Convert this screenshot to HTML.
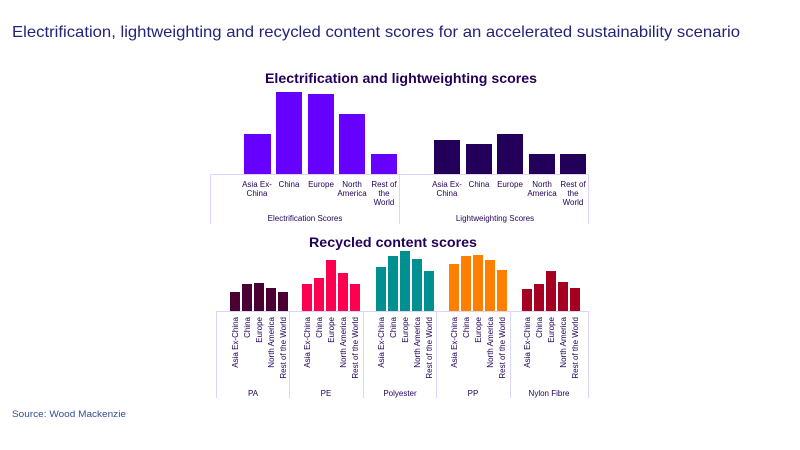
<!DOCTYPE html>
<html><head><meta charset="utf-8"><style>
html,body{margin:0;padding:0;background:#fff;}
svg{display:block;}
text{font-family:"Liberation Sans",Arial,sans-serif;}
</style></head><body>
<svg width="800" height="450" viewBox="0 0 800 450" xmlns="http://www.w3.org/2000/svg">
<rect width="800" height="450" fill="#fff"/>
<text x="12" y="37" font-size="16" fill="#23237a" textLength="728" lengthAdjust="spacingAndGlyphs">Electrification, lightweighting and recycled content scores for an accelerated sustainability scenario</text>
<text x="12" y="417" font-size="9.5" fill="#2f4f8f" textLength="114" lengthAdjust="spacingAndGlyphs">Source: Wood Mackenzie</text>

<!-- top chart -->
<text x="401" y="83" font-size="14" font-weight="bold" fill="#22005a" text-anchor="middle" textLength="272" lengthAdjust="spacingAndGlyphs">Electrification and lightweighting scores</text>
<g fill="#6600ff">
<rect x="244" y="134" width="27" height="40"/>
<rect x="276" y="92" width="26" height="82"/>
<rect x="308" y="94" width="26" height="80"/>
<rect x="339" y="114" width="26" height="60"/>
<rect x="371" y="154" width="26" height="20"/>
</g>
<g fill="#22005a">
<rect x="434" y="140" width="26" height="34"/>
<rect x="466" y="144" width="26" height="30"/>
<rect x="497" y="134" width="26" height="40"/>
<rect x="529" y="154" width="26" height="20"/>
<rect x="560" y="154" width="26" height="20"/>
</g>
<g stroke="#dcd3ff" stroke-width="1" fill="none">
<line x1="210" y1="174.5" x2="589" y2="174.5"/>
<line x1="210.5" y1="174" x2="210.5" y2="224"/>
<line x1="399.5" y1="174" x2="399.5" y2="224"/>
<line x1="588.5" y1="174" x2="588.5" y2="224"/>
</g>
<g font-size="8" fill="#22005a" text-anchor="middle">
<text x="257" y="187">Asia Ex-</text><text x="257" y="196">China</text>
<text x="289" y="187">China</text>
<text x="321" y="187">Europe</text>
<text x="352" y="187">North</text><text x="352" y="196">America</text>
<text x="384" y="187">Rest of</text><text x="384" y="196">the</text><text x="384" y="205">World</text>
<text x="447" y="187">Asia Ex-</text><text x="447" y="196">China</text>
<text x="479" y="187">China</text>
<text x="510" y="187">Europe</text>
<text x="542" y="187">North</text><text x="542" y="196">America</text>
<text x="573" y="187">Rest of</text><text x="573" y="196">the</text><text x="573" y="205">World</text>
<text x="305" y="221">Electrification Scores</text>
<text x="495" y="221">Lightweighting Scores</text>
</g>

<!-- bottom chart -->
<text x="393" y="247" font-size="14" font-weight="bold" fill="#22005a" text-anchor="middle" textLength="168" lengthAdjust="spacingAndGlyphs">Recycled content scores</text>
<g fill="#4b0033">
<rect x="230" y="292" width="10" height="19"/><rect x="242" y="284" width="10" height="27"/><rect x="254" y="283" width="10" height="28"/><rect x="266" y="288" width="10" height="23"/><rect x="278" y="292" width="10" height="19"/>
</g>
<g fill="#ff0050">
<rect x="302" y="284" width="10" height="27"/><rect x="314" y="278" width="10" height="33"/><rect x="326" y="260" width="10" height="51"/><rect x="338" y="273" width="10" height="38"/><rect x="350" y="284" width="10" height="27"/>
</g>
<g fill="#009090">
<rect x="376" y="267" width="10" height="44"/><rect x="388" y="256" width="10" height="55"/><rect x="400" y="251" width="10" height="60"/><rect x="412" y="259" width="10" height="52"/><rect x="424" y="271" width="10" height="40"/>
</g>
<g fill="#ff7f00">
<rect x="449" y="264" width="10" height="47"/><rect x="461" y="256" width="10" height="55"/><rect x="473" y="255" width="10" height="56"/><rect x="485" y="260" width="10" height="51"/><rect x="497" y="270" width="10" height="41"/>
</g>
<g fill="#a50021">
<rect x="522" y="289" width="10" height="22"/><rect x="534" y="284" width="10" height="27"/><rect x="546" y="271" width="10" height="40"/><rect x="558" y="282" width="10" height="29"/><rect x="570" y="288" width="10" height="23"/>
</g>
<g stroke="#dcd3ff" stroke-width="1" fill="none">
<line x1="216" y1="311.5" x2="589" y2="311.5"/>
<line x1="216.5" y1="311" x2="216.5" y2="398"/>
<line x1="289.5" y1="311" x2="289.5" y2="398"/>
<line x1="363.5" y1="311" x2="363.5" y2="398"/>
<line x1="436.5" y1="311" x2="436.5" y2="398"/>
<line x1="510.5" y1="311" x2="510.5" y2="398"/>
<line x1="588.5" y1="311" x2="588.5" y2="398"/>
</g>
<g font-size="8" fill="#22005a" text-anchor="end">
<text transform="translate(238,317) rotate(-90)">Asia Ex-China</text>
<text transform="translate(250,317) rotate(-90)">China</text>
<text transform="translate(262,317) rotate(-90)">Europe</text>
<text transform="translate(274,317) rotate(-90)">North America</text>
<text transform="translate(286,317) rotate(-90)">Rest of the World</text>
<text transform="translate(310,317) rotate(-90)">Asia Ex-China</text>
<text transform="translate(322,317) rotate(-90)">China</text>
<text transform="translate(334,317) rotate(-90)">Europe</text>
<text transform="translate(346,317) rotate(-90)">North America</text>
<text transform="translate(358,317) rotate(-90)">Rest of the World</text>
<text transform="translate(384,317) rotate(-90)">Asia Ex-China</text>
<text transform="translate(396,317) rotate(-90)">China</text>
<text transform="translate(408,317) rotate(-90)">Europe</text>
<text transform="translate(420,317) rotate(-90)">North America</text>
<text transform="translate(432,317) rotate(-90)">Rest of the World</text>
<text transform="translate(457,317) rotate(-90)">Asia Ex-China</text>
<text transform="translate(469,317) rotate(-90)">China</text>
<text transform="translate(481,317) rotate(-90)">Europe</text>
<text transform="translate(493,317) rotate(-90)">North America</text>
<text transform="translate(505,317) rotate(-90)">Rest of the World</text>
<text transform="translate(530,317) rotate(-90)">Asia Ex-China</text>
<text transform="translate(542,317) rotate(-90)">China</text>
<text transform="translate(554,317) rotate(-90)">Europe</text>
<text transform="translate(566,317) rotate(-90)">North America</text>
<text transform="translate(578,317) rotate(-90)">Rest of the World</text>
</g>
<g font-size="8" fill="#22005a" text-anchor="middle">
<text x="253" y="396">PA</text>
<text x="326" y="396">PE</text>
<text x="400" y="396">Polyester</text>
<text x="473" y="396">PP</text>
<text x="549" y="396">Nylon Fibre</text>
</g>
</svg>
</body></html>
